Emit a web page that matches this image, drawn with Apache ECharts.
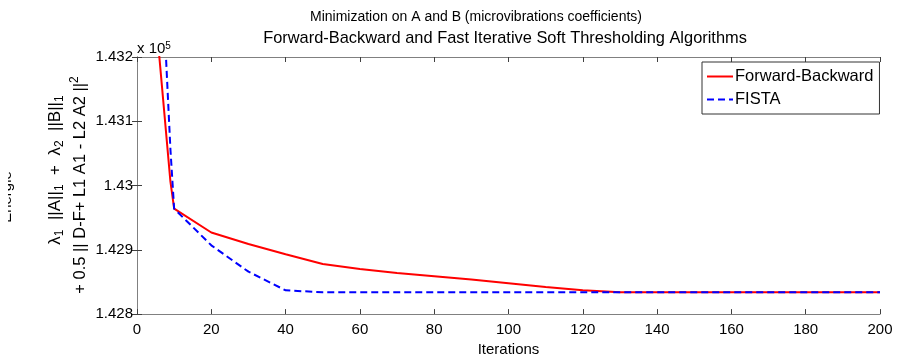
<!DOCTYPE html>
<html>
<head>
<meta charset="utf-8">
<script src="https://cdn.jsdelivr.net/npm/echarts@6/dist/echarts.min.js"></script>
<style>
  html, body { margin: 0; padding: 0; background: #fff; overflow: hidden; }
  #chart { width: 897px; height: 362px; }
</style>
</head>
<body>
<div id="chart"></div>
<script>
const iterations = [1, 9, 10, 20, 30, 40, 50, 60, 70, 80, 90, 100, 110, 120, 130, 140, 150, 160, 170, 180, 190, 200]
const fbEnergy = [143526, 143006, 142964, 142927, 142909, 142893, 142878, 142870, 142864, 142859, 142854, 142848, 142842, 142837, 142834, 142834, 142834, 142834, 142834, 142834, 142834, 142834]
const fistaEnergy = [144016, 143056, 142964, 142907, 142866, 142837, 142834, 142834, 142834, 142834, 142834, 142834, 142834, 142834, 142834, 142834, 142834, 142834, 142834, 142834, 142834, 142834]
const seriesNames = ["Forward-Backward", "FISTA"]
const titleLines = [
  "Minimization on A and B (microvibrations coefficients)",
  "Forward-Backward and Fast Iterative Soft Thresholding Algorithms",
]

const FONT = "Liberation Sans, Arial, sans-serif"
const chart = echarts.init(document.getElementById("chart"))

const zip = (xs, ys) => xs.map((x, i) => [x, ys[i]])

const axisCommon = {
  axisLine: { show: true, lineStyle: { color: "#808080", width: 1 } },
  axisTick: { show: true, inside: true, length: 5, lineStyle: { color: "#404040" } },
  splitLine: { show: false },
}

const option = {
  animation: false,
  backgroundColor: "#fff",
  grid: { left: 137, right: 17, top: 57, height: 263 },
  xAxis: [
    {
      type: "value", position: "bottom", min: 0, max: 200, interval: 20,
      ...axisCommon,
      axisLabel: { color: "#000", fontSize: 15, fontFamily: FONT, margin: 8 },
      name: "Iterations", nameLocation: "middle", nameGap: 26,
      nameTextStyle: { color: "#000", fontSize: 15, fontFamily: FONT },
    },
    {
      type: "value", position: "top", min: 0, max: 200, interval: 20,
      ...axisCommon,
      axisLabel: { show: false },
    },
  ],
  yAxis: [
    {
      type: "value", position: "left", min: 142800, max: 143200, interval: 100,
      ...axisCommon,
      axisLabel: {
        color: "#000", fontSize: 15, fontFamily: FONT, margin: 4,
        formatter: (v) => String(parseFloat((v / 1e5).toFixed(4))),
      },
    },
    {
      type: "value", position: "right", min: 142800, max: 143200, interval: 100,
      ...axisCommon,
      axisLabel: { show: false },
    },
  ],
  legend: {
    orient: "vertical",
    left: 702, top: 62,
    backgroundColor: "#fff",
    borderColor: "#333", borderWidth: 1, borderRadius: 0,
    padding: [6, 6, 6, 4],
    itemWidth: 26, itemHeight: 10, itemGap: 6,
    itemStyle: { opacity: 0 },
    textStyle: { color: "#000", fontSize: 16.5, fontFamily: FONT, padding: [0, 0, 0, -3] },
    data: seriesNames,
  },
  series: [
    {
      name: seriesNames[0], type: "line", symbol: "none",
      data: zip(iterations, fbEnergy),
      lineStyle: { color: "#ff0000", width: 2 },
      itemStyle: { color: "#ff0000" },
    },
    {
      name: seriesNames[1], type: "line", symbol: "none",
      data: zip(iterations, fistaEnergy),
      lineStyle: { color: "#0000ff", width: 2, type: [7, 4] },
      itemStyle: { color: "#0000ff" },
    },
  ],
  graphic: [
    {
      type: "text", x: 476, y: 17,
      style: { text: titleLines[0], fill: "#000", fontSize: 14, fontFamily: FONT, align: "center", verticalAlign: "middle" },
    },
    {
      type: "text", x: 505, y: 38,
      style: { text: titleLines[1], fill: "#000", fontSize: 16.4, fontFamily: FONT, align: "center", verticalAlign: "middle" },
    },
    {
      type: "text", x: 137, y: 49,
      style: {
        text: "{n|x 10}{p|5}", align: "left", verticalAlign: "middle",
        rich: {
          n: { fill: "#000", fontSize: 15, fontFamily: FONT, lineHeight: 16 },
          p: { fill: "#000", fontSize: 10, fontFamily: FONT, verticalAlign: "top", lineHeight: 16 },
        },
      },
    },
    // "Energie" label, mostly cut off at the left edge like the original figure
    {
      type: "text", x: 7, y: 197, rotation: Math.PI / 2, z: 1,
      style: { text: "Energie", fill: "#000", fontSize: 15, fontFamily: FONT, align: "center", verticalAlign: "middle" },
    },
    {
      type: "rect", z: 2,
      shape: { x: 0, y: 160, width: 8, height: 75 },
      style: { fill: "#fff" },
    },
    {
      type: "text", x: 55, y: 170, rotation: Math.PI / 2,
      style: {
        text: "{n|λ}{s|1}{n|  ||A||}{s|1}{n|  +  λ}{s|2}{n|  ||B||}{s|1}",
        align: "center", verticalAlign: "middle",
        rich: {
          n: { fill: "#000", fontSize: 17, fontFamily: FONT, lineHeight: 22, verticalAlign: "middle" },
          s: { fill: "#000", fontSize: 12, fontFamily: FONT, lineHeight: 22, verticalAlign: "bottom" },
        },
      },
    },
    {
      type: "text", x: 80, y: 185, rotation: Math.PI / 2,
      style: {
        text: "{n|+ 0.5 || D-F+ L1 A1 - L2 A2 ||}{p|2}",
        align: "center", verticalAlign: "middle",
        rich: {
          n: { fill: "#000", fontSize: 16.5, fontFamily: FONT, lineHeight: 22, verticalAlign: "middle" },
          p: { fill: "#000", fontSize: 12, fontFamily: FONT, lineHeight: 22, verticalAlign: "top" },
        },
      },
    },
  ],
}

chart.setOption(option)
</script>
</body>
</html>
